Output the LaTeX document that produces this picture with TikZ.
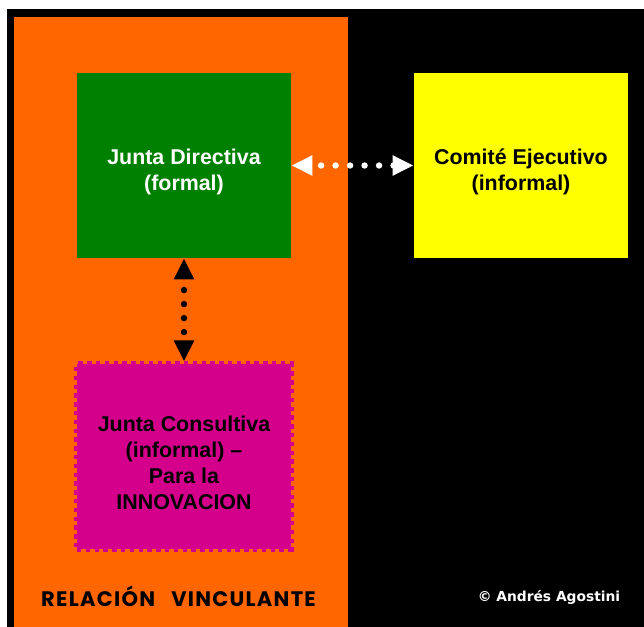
\documentclass[tikz,border=0pt]{standalone}
\usepackage{fontspec}
\setmainfont{Liberation Sans}
\newfontfamily\firmafont{DejaVu Sans}
\newfontfamily\decofont[LetterSpace=6]{Poppins}
\usetikzlibrary{positioning,arrows.meta}
\definecolor{naranja}{HTML}{FF6600}
\definecolor{verde}{HTML}{008000}
\definecolor{amarillo}{HTML}{FFFF00}
\definecolor{fucsia}{HTML}{D4008C}
\newcommand{\alto}{\rule{0pt}{14pt}}
\tikzset{
  caja/.style={minimum width=107pt, minimum height=92.5pt, inner sep=0pt, align=center,
    font=\fontsize{10.7}{13}\selectfont\bfseries},
  formalbox/.style={caja, fill=verde, text=white},
  informalbox/.style={caja, fill=amarillo, text=black},
  consultabox/.style={caja, fill=fucsia, draw=fucsia, line width=2.6pt, dash pattern=on 2.2pt off 2.2pt},
  enlacepunteado/.style={line width=3.2pt, line cap=round, {Triangle[length=10.5pt, width=9.5pt]}-{Triangle[length=10.5pt, width=9.5pt]}}
}
\begin{document}
\begin{tikzpicture}[x=0.5pt, y=-0.5pt]
  \path[use as bounding box] (0,0) rectangle (644,627);
  % fondo
  \fill[black] (7,9) rectangle (644,627);
  \fill[naranja] (14,17) rectangle (348,627);
  % cajas
  \node[formalbox] (directiva) at (184,165.5) {\alto Junta Directiva\\(formal)};
  \node[informalbox] (comite) at (521,165.5) {\alto Comité Ejecutivo\\(informal)};
  \node[consultabox] (consultiva) at (184,456.5) {\alto Junta Consultiva\\(informal) --\\Para la\\INNOVACION};
  % enlaces
  \draw[enlacepunteado, white, dash pattern=on 0pt off 7.25pt, dash phase=2.25pt] (directiva) -- (comite);
  \draw[enlacepunteado, black, dash pattern=on 0pt off 7pt, dash phase=1pt] (directiva) -- (consultiva);
  % textos
  \node[font=\decofont\fontsize{10.5}{13}\selectfont\bfseries] (relacion) at (178.5,596) {RELACIÓN\enspace\ VINCULANTE};
  \node[font=\firmafont\fontsize{6.9}{8}\selectfont\bfseries, text=white] (firma) at (549,597) {© Andrés Agostini};
\end{tikzpicture}
\end{document}
